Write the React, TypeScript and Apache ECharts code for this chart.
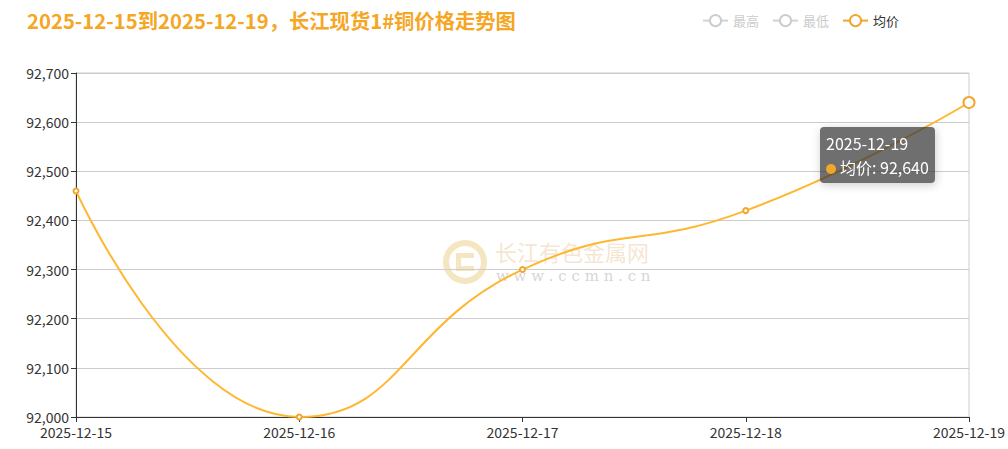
import { useEffect, useRef } from 'react';
import * as echarts from 'echarts';

const dates = ['2025-12-15', '2025-12-16', '2025-12-17', '2025-12-18', '2025-12-19'];
const highValues: number[] = [];
const lowValues: number[] = [];
const avgValues = [92460, 92000, 92300, 92420, 92640];

const ORANGE = '#F5A623';
const LINE = '#EFA72C';
const FONT = '"Noto Sans CJK SC", "Microsoft YaHei", sans-serif';

export default function App() {
  const elRef = useRef<HTMLDivElement>(null);

  useEffect(() => {
    const el = elRef.current;
    if (!el) return;
    document.body.style.margin = '0';
    const chart = echarts.init(el, undefined, { renderer: 'svg' });

    chart.setOption({
      animation: false,
      textStyle: { fontFamily: FONT },
      title: {
        text: '2025-12-15到2025-12-19，长江现货1#铜价格走势图',
        left: 22,
        top: 5,
        textStyle: { color: ORANGE, fontSize: 20.3, fontWeight: 'bold', fontFamily: FONT },
      },
      legend: {
        right: 104,
        top: 9,
        itemWidth: 25,
        itemHeight: 14,
        itemGap: 13,
        inactiveColor: '#ccc',
        textStyle: { color: '#333', fontSize: 13, fontFamily: FONT },
        data: ['最高', '最低', '均价'],
        selected: { 最高: false, 最低: false, 均价: true },
      },
      tooltip: {
        trigger: 'item',
        alwaysShowContent: true,
        backgroundColor: 'rgba(50,50,50,0.7)',
        borderWidth: 0,
        padding: [4, 6],
        textStyle: { color: '#fff', fontSize: 16, fontFamily: FONT },
        position: [820, 127],
        formatter: (p: any) =>
          `${p.name}<br/>${p.marker}${p.seriesName}: ${Number(p.value).toLocaleString('en-US')}`,
      },
      grid: {
        left: 76,
        right: 39,
        top: 73,
        bottom: 32,
        show: true,
        borderColor: '#ccc',
        borderWidth: 1,
      },
      xAxis: {
        type: 'category',
        boundaryGap: false,
        data: dates,
        axisLine: { lineStyle: { color: '#333' } },
        axisTick: { show: true, alignWithLabel: true },
        axisLabel: { color: '#333', fontSize: 14, lineHeight: 14, margin: 8 },
      },
      yAxis: {
        type: 'value',
        min: 92000,
        max: 92700,
        interval: 100,
        axisLine: { show: true, lineStyle: { color: '#333' } },
        axisTick: { show: true },
        axisLabel: {
          color: '#333',
          fontSize: 14,
          lineHeight: 14,
          margin: 7,
          formatter: (v: number) => v.toLocaleString('en-US'),
        },
        splitLine: { lineStyle: { color: '#ccc' } },
      },
      graphic: [
        {
          type: 'group',
          left: 443,
          top: 240,
          silent: true,
          z: -1,
          children: [
            {
              type: 'ring',
              shape: { cx: 22, cy: 22, r: 22, r0: 16 },
              style: { fill: 'rgba(232,205,130,0.5)' },
            },
            {
              type: 'rect',
              shape: { x: 13, y: 13, width: 18, height: 18 },
              style: { fill: 'rgba(232,205,130,0.5)' },
            },
            {
              type: 'rect',
              shape: { x: 18, y: 18, width: 13, height: 8 },
              style: { fill: '#fff' },
            },
            {
              type: 'text',
              x: 52,
              y: 0,
              style: {
                text: '长江有色金属网',
                fill: 'rgba(240,212,180,0.6)',
                font: `22px ${FONT}`,
              },
            },
            {
              type: 'text',
              x: 53,
              y: 28,
              style: {
                text: 'w w w . c c m n . c n',
                fill: 'rgba(170,170,170,0.5)',
                font: '15px "DejaVu Serif", serif',
              },
            },
          ],
        },
      ],
      series: [
        { name: '最高', type: 'line', data: highValues },
        { name: '最低', type: 'line', data: lowValues },
        {
          name: '均价',
          type: 'line',
          smooth: true,
          data: avgValues,
          symbol: 'emptyCircle',
          symbolSize: 5,
          itemStyle: { color: LINE },
          lineStyle: { color: LINE, width: 2 },
          emphasis: { scale: 2.2 },
        },
      ],
    });

    chart.dispatchAction({ type: 'highlight', seriesIndex: 2, dataIndex: 4 });
    chart.dispatchAction({ type: 'showTip', seriesIndex: 2, dataIndex: 4 });

    return () => chart.dispose();
  }, []);

  return <div ref={elRef} style={{ width: 1008, height: 449 }} />;
}
